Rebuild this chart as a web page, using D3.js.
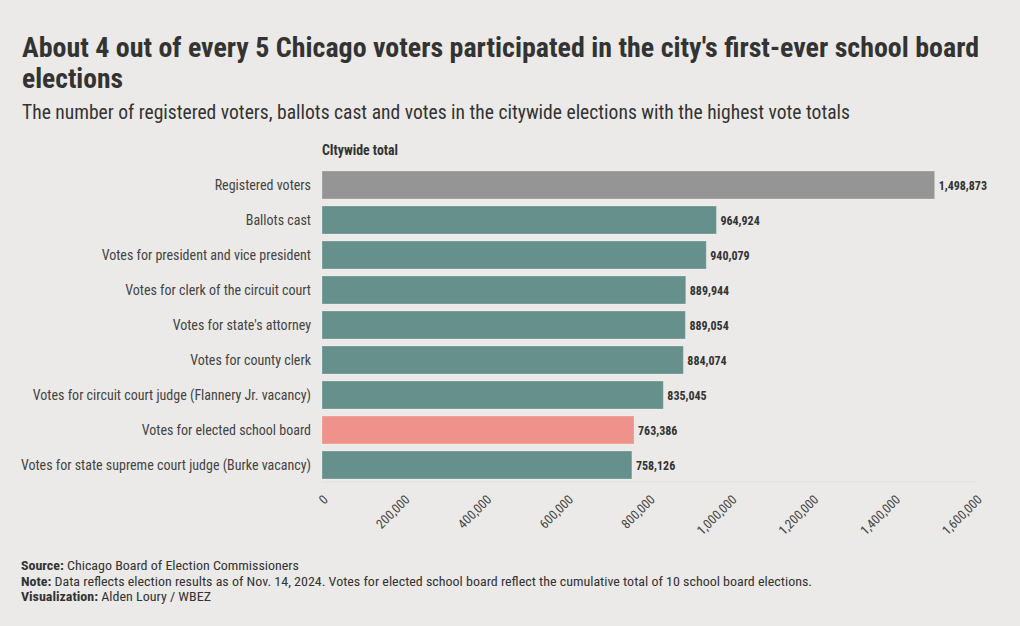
<!DOCTYPE html>
<html><head><meta charset="utf-8">
<script src="https://cdn.jsdelivr.net/npm/d3@7"></script>
<style>
body{margin:0;background:#ebeae8;}
svg{display:block;font-family:"Roboto Condensed","Roboto",sans-serif;}
</style></head>
<body><svg id="chart" width="1020" height="626"></svg>
<script>
const categories = [
  "Registered voters",
  "Ballots cast",
  "Votes for president and vice president",
  "Votes for clerk of the circuit court",
  "Votes for state's attorney",
  "Votes for county clerk",
  "Votes for circuit court judge (Flannery Jr. vacancy)",
  "Votes for elected school board",
  "Votes for state supreme court judge (Burke vacancy)"
];
const values = [1498873, 964924, 940079, 889944, 889054, 884074, 835045, 763386, 758126];
const groups = ["registered","vote","vote","vote","vote","vote","vote","school","vote"];
const tickValues = [0,200000,400000,600000,800000,1000000,1200000,1400000,1600000];
const colorMap = {registered:"#959595", vote:"#66908b", school:"#f0928c"};

const svg = d3.select("#chart");
svg.append("rect").attr("width",1020).attr("height",626).attr("fill","#ebeae8");

function fit(sel, width){
  sel.attr("textLength", width).attr("lengthAdjust","spacingAndGlyphs");
}

// Titles
fit(svg.append("text").attr("x",22).attr("y",57).attr("font-size",28).attr("font-weight",700).attr("fill","#333")
  .text("About 4 out of every 5 Chicago voters participated in the city's first-ever school board"), 957);
fit(svg.append("text").attr("x",22).attr("y",88).attr("font-size",28).attr("font-weight",700).attr("fill","#333")
  .text("elections"), 101);
fit(svg.append("text").attr("x",22).attr("y",119).attr("font-size",20).attr("fill","#333")
  .text("The number of registered voters, ballots cast and votes in the citywide elections with the highest vote totals"), 828);

const x = d3.scaleLinear().domain([0,1600000]).range([322,976]);
const y = d3.scaleBand().domain(categories).range([167.5,482.5]).paddingInner(0.2).paddingOuter(0.1);

// header
fit(svg.append("text").attr("x",322).attr("y",155).attr("font-size",14).attr("font-weight",700).attr("fill","#333")
  .text("CItywide total"), 76);

// baseline
svg.append("line").attr("x1",322).attr("x2",976).attr("y1",482).attr("y2",482).attr("stroke","#e2e1df").attr("stroke-width",1);

// bars
svg.append("g").selectAll("rect").data(values).join("rect")
  .attr("x", x(0))
  .attr("y", (d,i)=>y(categories[i]))
  .attr("width", d=>x(d)-x(0))
  .attr("height", y.bandwidth())
  .attr("fill", (d,i)=>colorMap[groups[i]])
  .attr("stroke","rgba(255,255,255,0.25)")
  .attr("stroke-width",1);

// category labels
svg.append("g").selectAll("text").data(categories).join("text")
  .attr("x",311).attr("y",d=>y(d)+y.bandwidth()/2).attr("dy","0.35em")
  .attr("text-anchor","end").attr("font-size",14).attr("fill","#444").text(d=>d);

// value labels
const fmt = d3.format(",");
svg.append("g").selectAll("text").data(values).join("text")
  .attr("x",d=>x(d)+4).attr("y",(d,i)=>y(categories[i])+y.bandwidth()/2).attr("dy","0.38em")
  .attr("font-size",12).attr("font-weight",700).attr("fill","#333").text(d=>fmt(d));

// x axis
const ax = svg.append("g").attr("transform","translate(0,482)")
  .call(d3.axisBottom(x).tickValues(tickValues).tickFormat(fmt).tickSize(0));
ax.select(".domain").remove();
ax.selectAll("text")
  .attr("font-family","'Roboto Condensed','Roboto',sans-serif")
  .attr("font-size",13).attr("fill","#444")
  .attr("text-anchor","end").attr("dy","0.35em")
  .attr("transform","translate(1,13) rotate(-45)");

// footer
const foot = [
  ["Source: ","Chicago Board of Election Commissioners"],
  ["Note: ","Data reflects election results as of Nov. 14, 2024. Votes for elected school board reflect the cumulative total of 10 school board elections."],
  ["Visualization: ","Alden Loury / WBEZ"]
];
const footWidths = [278, 791, 190];
foot.forEach((f,i)=>{
  const t = svg.append("text").attr("x",21).attr("y",570+i*15.5).attr("font-size",13).attr("fill","#333");
  t.append("tspan").attr("font-weight",700).text(f[0]);
  t.append("tspan").text(f[1]);
  fit(t, footWidths[i]);
});
</script></body></html>
